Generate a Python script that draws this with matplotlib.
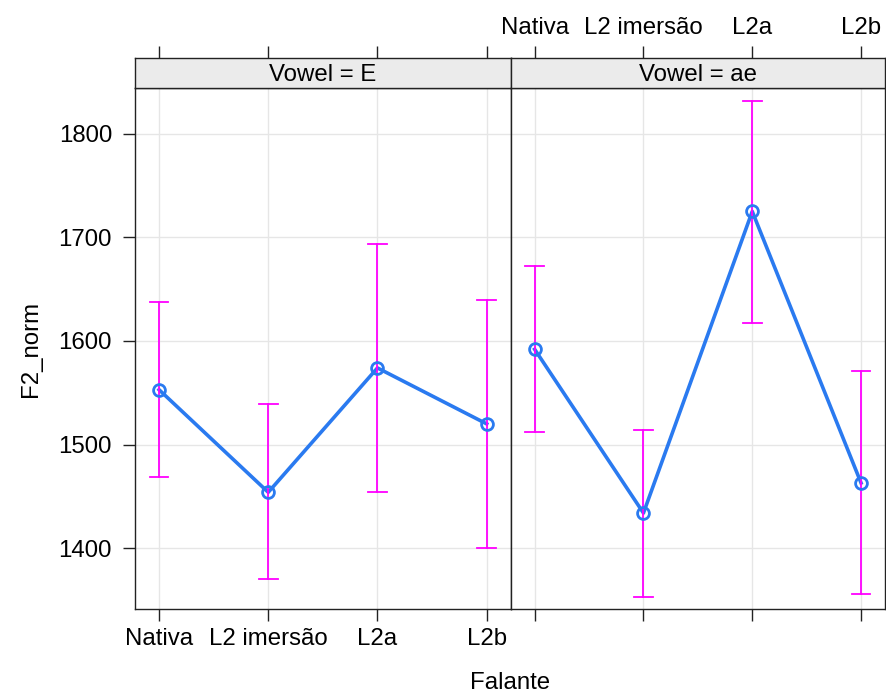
import matplotlib
matplotlib.use("Agg")
import matplotlib.pyplot as plt

plt.rcParams['font.family'] = ['Liberation Sans', 'DejaVu Sans']

categories = ["Nativa", "L2 imersão", "L2a", "L2b"]
panels = ["E", "ae"]
fit_E = [1553, 1454, 1574, 1520]
lower_E = [1469, 1370, 1454, 1400]
upper_E = [1638, 1539, 1694, 1640]
fit_ae = [1592, 1434, 1725, 1463]
lower_ae = [1512, 1353, 1617, 1356]
upper_ae = [1672, 1514, 1832, 1571]
yticks = [1400, 1500, 1600, 1700, 1800]

fits = [fit_E, fit_ae]
lowers = [lower_E, lower_ae]
uppers = [upper_E, upper_ae]

W, H = 887, 693
fig = plt.figure(figsize=(W / 100, H / 100), dpi=100)

def fx(px):
    return px / W

def fy(py):
    return 1 - py / H

panel_x = [(135, 510.7), (510.7, 885)]
top, bottom = 88.3, 609
strip_top = 57.7
xlim = (0.78, 4.22)
ylim = (1341.4, 1843.8)
xs = [1, 2, 3, 4]
frame_col = "#222222"
fs = 17.3

for i, (x0, x1) in enumerate(panel_x):
    ax = fig.add_axes([fx(x0), fy(bottom), fx(x1 - x0), fy(top) - fy(bottom)])
    ax.set_xlim(*xlim)
    ax.set_ylim(*ylim)
    for x in xs:
        ax.axvline(x, color="#e6e6e6", lw=1, zorder=0)
    for y in yticks:
        ax.axhline(y, color="#e6e6e6", lw=1, zorder=0)
    f, lo, up = fits[i], lowers[i], uppers[i]
    ax.plot(xs, f, color="#2a7af0", lw=2.6, zorder=2)
    ax.plot(xs, f, 'o', mfc="none", mec="#2a7af0", mew=2.0, ms=8.5, zorder=4)
    for x, l, u in zip(xs, lo, up):
        ax.plot([x, x], [l, u], color="#ff00ff", lw=1.3, zorder=3)
        ax.plot([x - 0.085, x + 0.085], [l, l], color="#ff00ff", lw=1.3, zorder=3)
        ax.plot([x - 0.085, x + 0.085], [u, u], color="#ff00ff", lw=1.3, zorder=3)
    for s in ax.spines.values():
        s.set_color(frame_col)
        s.set_linewidth(1.0)
    ax.set_xticks(xs)
    ax.tick_params(axis='x', direction='out', length=8.5, width=1, color=frame_col,
                   labelsize=fs, pad=5, top=False)
    ax.set_yticks(yticks)
    if i == 0:
        ax.set_xticklabels(categories)
        ax.tick_params(axis='y', direction='out', length=8.5, width=1, color=frame_col,
                       labelsize=fs, pad=8, left=True, right=False)
        ax.set_ylabel("F2_norm", fontsize=fs, labelpad=12)
    else:
        ax.set_xticklabels([])
        ax.tick_params(axis='y', direction='out', length=8.5, width=1, color=frame_col,
                       left=False, right=True, labelleft=False, labelright=False)
    # strip
    sax = fig.add_axes([fx(x0), fy(top), fx(x1 - x0), fy(strip_top) - fy(top)])
    sax.set_xlim(*xlim)
    sax.set_ylim(0, 1)
    sax.set_facecolor("#ebebeb")
    sax.set_yticks([])
    sax.set_xticks(xs)
    sax.xaxis.set_ticks_position('top')
    sax.tick_params(axis='x', direction='out', length=8.5, width=1, color=frame_col,
                    labelsize=fs, pad=5, bottom=False, top=True)
    if i == 1:
        sax.set_xticklabels(categories)
    else:
        sax.set_xticklabels([])
    for s in sax.spines.values():
        s.set_color(frame_col)
        s.set_linewidth(1.0)
    sax.text(0.5, 0.45, "Vowel = " + panels[i], transform=sax.transAxes,
             ha="center", va="center", fontsize=fs)

fig.text(fx(510), fy(683), "Falante", ha="center", va="center", fontsize=fs)

fig.savefig("out.png", dpi=100)
